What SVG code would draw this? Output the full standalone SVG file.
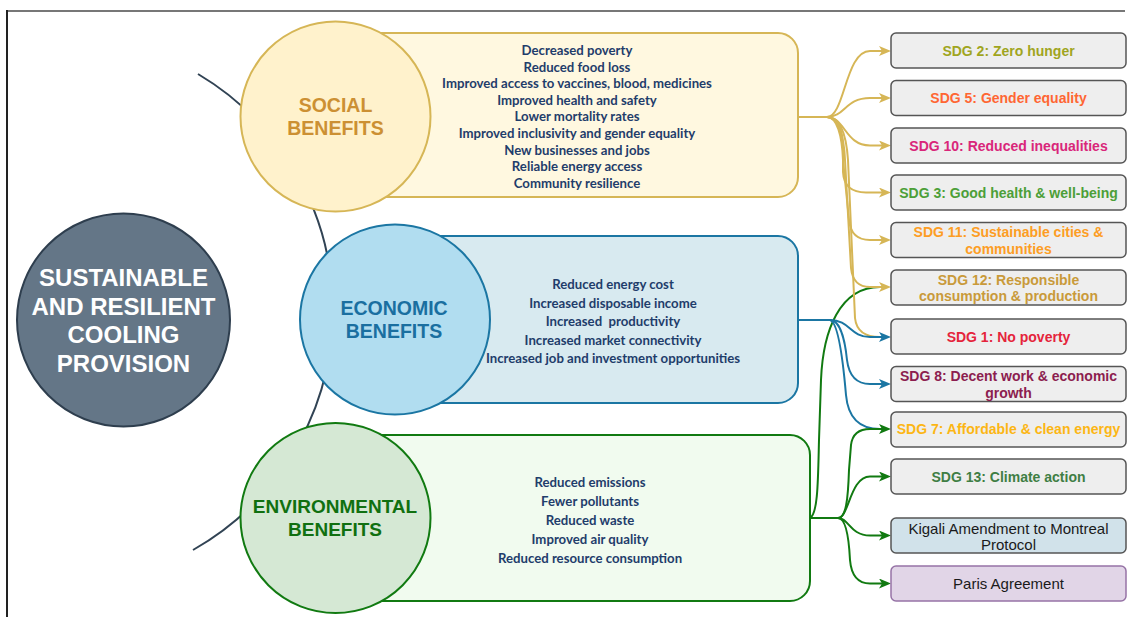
<svg xmlns="http://www.w3.org/2000/svg" width="1127" height="617" viewBox="0 0 1127 617">
<defs>
<style>
.big{font-family:"Liberation Sans",Arial,sans-serif;font-weight:bold;text-anchor:middle;dominant-baseline:central}
.bl{font-family:Lato,"Liberation Sans",sans-serif;font-weight:bold;font-size:13.2px;fill:#1f3d6b;text-anchor:middle;dominant-baseline:central}
.sdg{fill:#eeeeee;stroke:#555555;stroke-width:1.5}
.st{font-family:"Liberation Sans",Arial,sans-serif;font-weight:bold;font-size:14px;text-anchor:middle;dominant-baseline:central}
.tt{font-family:"Liberation Sans",Arial,sans-serif;font-size:15px;fill:#1a1a1a;text-anchor:middle;dominant-baseline:central}
.c{fill:none;stroke-width:2}
.g{stroke:#d6b656}
.b{stroke:#1b76a3}
.n{stroke:#117a11}
</style>
<marker id="ag" viewBox="0 0 12 10" refX="7" refY="5" markerWidth="12" markerHeight="10" markerUnits="userSpaceOnUse" orient="auto"><path d="M0,0 L12,5 L0,10 L3,5 Z" fill="#d6b656"/></marker>
<marker id="ab" viewBox="0 0 12 10" refX="7" refY="5" markerWidth="12" markerHeight="10" markerUnits="userSpaceOnUse" orient="auto"><path d="M0,0 L12,5 L0,10 L3,5 Z" fill="#1b76a3"/></marker>
<marker id="an" viewBox="0 0 12 10" refX="7" refY="5" markerWidth="12" markerHeight="10" markerUnits="userSpaceOnUse" orient="auto"><path d="M0,0 L12,5 L0,10 L3,5 Z" fill="#117a11"/></marker>
</defs>
<rect width="1127" height="617" fill="#ffffff"/>
<line x1="7" y1="11" x2="1125" y2="11" stroke="#777777" stroke-width="2"/>
<line x1="7" y1="10" x2="7" y2="617" stroke="#222222" stroke-width="2"/>

<g id="spine">
<path d="M198,74 A275,275 0 0 1 193,550" fill="none" stroke="#314354" stroke-width="2"/>
</g>

<g id="connectors">
<path class="c n" d="M810,518 C818,514 818,480 819,440 L821,380 C823,330 840,287 880,287"/>
<path class="c g" d="M797,117 H827 C838,117 846,130 848,160 L855,318 Q857,337 880,337"/>
<path class="c b" d="M798,320 H830 C838,322 843,360 846,395 Q849,429 880,429"/>
<path class="c g" marker-end="url(#ag)" d="M797,117 H827 C845,117 845,51 870,51 H886"/>
<path class="c g" marker-end="url(#ag)" d="M797,117 H827 C845,117 845,98 870,98 H886"/>
<path class="c g" marker-end="url(#ag)" d="M797,117 H827 C845,117 845,145.5 870,145.5 H886"/>
<path class="c g" marker-end="url(#ag)" d="M797,117 H827 C838,117 843,130 843,150 L843,172 Q844,192.5 866,192.5 H886"/>
<path class="c g" marker-end="url(#ag)" d="M797,117 H827 C837,117 842,135 843,160 L849,220 Q851,240 870,240 H886"/>
<path class="c g" marker-end="url(#ag)" d="M797,117 H827 C838,117 844,135 845,160 L851,268 Q853,287 870,287 H886"/>
<path class="c b" marker-end="url(#ab)" d="M798,320 H830 C850,320 850,337 870,337 H886"/>
<path class="c b" marker-end="url(#ab)" d="M798,320 H830 C840,320 845,340 847,360 Q850,384 870,384 H886"/>
<path class="c n" marker-end="url(#an)" d="M810,518 H838 C846,518 848,500 849,470 L851,445 Q853,429 870,429 H886"/>
<path class="c n" marker-end="url(#an)" d="M810,518 H838 C849,518 850,476.5 870,476.5 H886"/>
<path class="c n" marker-end="url(#an)" d="M810,518 H838 C849,518 850,535.5 870,535.5 H886"/>
<path class="c n" marker-end="url(#an)" d="M810,518 H838 C846,518 849,540 850,560 Q852,583.5 870,583.5 H886"/>
</g>

<g id="main">
<circle cx="123.5" cy="320" r="106.5" fill="#647687" stroke="#2e3e4e" stroke-width="2"/>
<text class="big" font-size="24" fill="#ffffff"><tspan x="123.5" y="277">SUSTAINABLE</tspan><tspan x="123.5" y="305.5">AND RESILIENT</tspan><tspan x="123.5" y="334">COOLING</tspan><tspan x="123.5" y="362.5">PROVISION</tspan></text>
</g>

<g id="social">
<rect x="335" y="33" width="463" height="164" rx="20" fill="#fff8e0" stroke="#d6b656" stroke-width="2"/>
<circle cx="335.5" cy="116.5" r="95" fill="#fff2cc" stroke="#d6b656" stroke-width="2"/>
<text class="big" font-size="19.5" fill="#cc9033"><tspan x="335.5" y="105">SOCIAL</tspan><tspan x="335.5" y="128">BENEFITS</tspan></text>
<text class="bl"><tspan x="577" y="50">Decreased poverty</tspan><tspan x="577" y="66.6">Reduced food loss</tspan><tspan x="577" y="83.2">Improved access to vaccines, blood, medicines</tspan><tspan x="577" y="99.8">Improved health and safety</tspan><tspan x="577" y="116.4">Lower mortality rates</tspan><tspan x="577" y="133">Improved inclusivity and gender equality</tspan><tspan x="577" y="149.6">New businesses and jobs</tspan><tspan x="577" y="166.2">Reliable energy access</tspan><tspan x="577" y="182.8">Community resilience</tspan></text>
</g>

<g id="economic">
<rect x="395" y="236" width="403" height="167" rx="20" fill="#d8eaf0" stroke="#1b76a3" stroke-width="2"/>
<circle cx="395" cy="319.5" r="95" fill="#b1ddf0" stroke="#1b76a3" stroke-width="2"/>
<text class="big" font-size="19.5" fill="#1a6fa0"><tspan x="394" y="308">ECONOMIC</tspan><tspan x="394" y="331">BENEFITS</tspan></text>
<text class="bl"><tspan x="613" y="284">Reduced energy cost</tspan><tspan x="613" y="302.5">Increased disposable income</tspan><tspan x="613" y="321" xml:space="preserve">Increased  productivity</tspan><tspan x="613" y="339.5">Increased market connectivity</tspan><tspan x="613" y="358">Increased job and investment opportunities</tspan></text>
</g>

<g id="environmental">
<rect x="335" y="435" width="475" height="166" rx="20" fill="#f1fbef" stroke="#117a11" stroke-width="2"/>
<circle cx="335.5" cy="518" r="95" fill="#d5e8d4" stroke="#117a11" stroke-width="2"/>
<text class="big" font-size="19" fill="#107010"><tspan x="335" y="506">ENVIRONMENTAL</tspan><tspan x="335" y="529">BENEFITS</tspan></text>
<text class="bl"><tspan x="590" y="482">Reduced emissions</tspan><tspan x="590" y="501">Fewer pollutants</tspan><tspan x="590" y="520">Reduced waste</tspan><tspan x="590" y="539">Improved air quality</tspan><tspan x="590" y="558">Reduced resource consumption</tspan></text>
</g>

<g id="sdg2"><rect class="sdg" x="891" y="33" width="235" height="35" rx="5"/><text class="st" x="1008.5" y="51" fill="#a0a51e">SDG 2: Zero hunger</text></g>
<g id="sdg5"><rect class="sdg" x="891" y="80.5" width="235" height="35" rx="5"/><text class="st" x="1008.5" y="98" fill="#ff6633">SDG 5: Gender equality</text></g>
<g id="sdg10"><rect class="sdg" x="891" y="128" width="235" height="35" rx="5"/><text class="st" x="1008.5" y="145.5" fill="#d9267a">SDG 10: Reduced inequalities</text></g>
<g id="sdg3"><rect class="sdg" x="891" y="175" width="235" height="35" rx="5"/><text class="st" x="1008.5" y="192.5" fill="#4c9f38">SDG 3: Good health &amp; well-being</text></g>
<g id="sdg11"><rect class="sdg" x="891" y="222.5" width="235" height="35" rx="5"/><text class="st" fill="#fd9d24"><tspan x="1008.5" y="232">SDG 11: Sustainable cities &amp;</tspan><tspan x="1008.5" y="248.5">communities</tspan></text></g>
<g id="sdg12"><rect class="sdg" x="891" y="270" width="235" height="35" rx="5"/><text class="st" fill="#c99a3a"><tspan x="1008.5" y="279.5">SDG 12: Responsible</tspan><tspan x="1008.5" y="296">consumption &amp; production</tspan></text></g>
<g id="sdg1"><rect class="sdg" x="891" y="319" width="235" height="35" rx="5"/><text class="st" x="1008.5" y="337" fill="#e5243b">SDG 1: No poverty</text></g>
<g id="sdg8"><rect class="sdg" x="891" y="366.5" width="235" height="35" rx="5"/><text class="st" fill="#8c1d4f"><tspan x="1008.5" y="376">SDG 8: Decent work &amp; economic</tspan><tspan x="1008.5" y="392.5">growth</tspan></text></g>
<g id="sdg7"><rect class="sdg" x="891" y="412" width="235" height="35" rx="5"/><text class="st" x="1008.5" y="429" fill="#fcb614">SDG 7: Affordable &amp; clean energy</text></g>
<g id="sdg13"><rect class="sdg" x="891" y="459" width="235" height="35" rx="5"/><text class="st" x="1008.5" y="476.5" fill="#3f7e44">SDG 13: Climate action</text></g>
<g id="kigali"><rect x="891" y="518" width="235" height="35" rx="5" fill="#d1e2ea" stroke="#555555" stroke-width="1.5"/><text class="tt"><tspan x="1008.5" y="527.5">Kigali Amendment to Montreal</tspan><tspan x="1008.5" y="544">Protocol</tspan></text></g>
<g id="paris"><rect x="891" y="566" width="235" height="35" rx="5" fill="#e1d5e7" stroke="#9673a6" stroke-width="1.5"/><text class="tt" x="1008.5" y="583.5">Paris Agreement</text></g>
</svg>
